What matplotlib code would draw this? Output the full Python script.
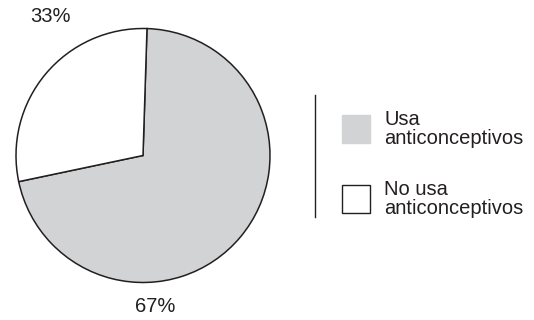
import matplotlib
matplotlib.use("Agg")
import matplotlib.pyplot as plt
from matplotlib.patches import Rectangle

plt.rcParams["font.family"] = ["Liberation Sans", "DejaVu Sans"]

# slice shares as drawn in the picture, with the printed labels
categories = ["Usa anticonceptivos", "No usa anticonceptivos"]
slice_sizes = [71.2, 28.8]
pct_labels = ["67%", "33%"]
legend_labels = ["Usa\nanticonceptivos", "No usa\nanticonceptivos"]
colors = ["#d1d3d4", "#ffffff"]


def main():
    W, H = 534, 320
    fig = plt.figure(figsize=(W / 100, H / 100), dpi=100)
    ax = fig.add_axes([0, 0, 1, 1])

    cx, cy, r = 143, H - 155.5, 127
    ax.pie(slice_sizes, colors=colors, startangle=88.2, counterclock=False,
           center=(cx, cy), radius=r,
           wedgeprops=dict(edgecolor="#231f20", linewidth=1.1))

    ax.set_xlim(0, W)
    ax.set_ylim(0, H)
    ax.set_aspect("equal")
    ax.axis("off")

    fs = 14.5
    ax.text(50, H - 17, pct_labels[1], ha="center", va="center", fontsize=fs, color="#231f20")
    ax.text(155, H - 306, pct_labels[0], ha="center", va="center", fontsize=fs, color="#231f20")

    # legend
    ax.plot([315, 315], [H - 95, H - 217], color="#231f20", lw=1)
    box_y = [H - 143, H - 213]
    for i, lab in enumerate(legend_labels):
        ax.add_patch(Rectangle((342, box_y[i]), 28, 28, facecolor=colors[i],
                               edgecolor="#231f20" if i == 1 else colors[i], lw=1))
        ax.text(384, box_y[i] + 14, lab, ha="left", va="center", fontsize=fs,
                color="#231f20", linespacing=0.95)

    fig.savefig("out.png", dpi=100)


if __name__ == "__main__":
    main()
